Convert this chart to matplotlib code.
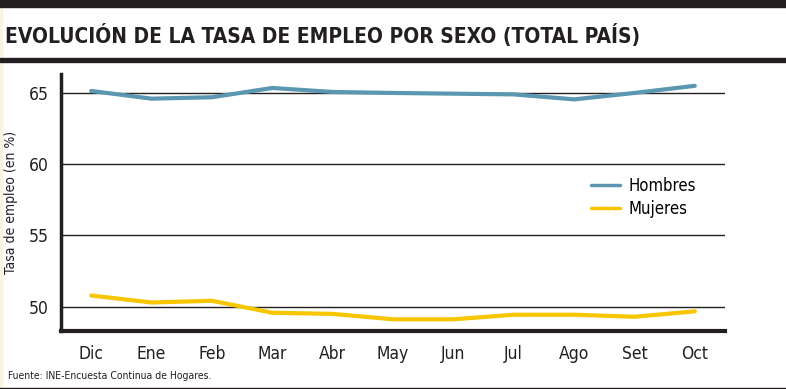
import matplotlib.pyplot as plt
from matplotlib.lines import Line2D

# data
meses = ['Dic', 'Ene', 'Feb', 'Mar', 'Abr', 'May', 'Jun', 'Jul', 'Ago', 'Set', 'Oct']
hombres = [65.14, 64.6, 64.7, 65.35, 65.07, 65.0, 64.95, 64.9, 64.55, 65.0, 65.5]
mujeres = [50.79, 50.3, 50.42, 49.58, 49.5, 49.12, 49.12, 49.44, 49.44, 49.3, 49.68]
yticks = [50, 55, 60, 65]

plt.rcParams['font.family'] = ['DejaVu Sans']
plt.rcParams['font.stretch'] = 'condensed'

W, H = 786, 389
fig = plt.figure(figsize=(W / 100, H / 100), dpi=100)

dark = '#231f20'
col_h = '#5b97b0'
col_m = '#f7c600'

# faint cream strip on the left edge, then header bars over it
fig.patches.append(plt.Rectangle((0, 1 / H), 2 / W, 1 - 8 / H, transform=fig.transFigure,
                                 color='#fbf3e2', zorder=0))
fig.patches.append(plt.Rectangle((0, 1 - 7 / H), 1, 7 / H, transform=fig.transFigure,
                                 color=dark, zorder=1))
fig.patches.append(plt.Rectangle((0, 1 - 62 / H), 1, 4 / H, transform=fig.transFigure,
                                 color=dark, zorder=1))
fig.text(5 / W, 1 - 35 / H, 'EVOLUCIÓN DE LA TASA DE EMPLEO POR SEXO (TOTAL PAÍS)',
         fontsize=15, fontweight='bold', color=dark, va='center', ha='left')

# footer
fig.text(8 / W, 1 - 376 / H, 'Fuente: INE-Encuesta Continua de Hogares.',
         fontsize=7.5, color=dark, va='center', ha='left')
fig.add_artist(Line2D([0, 1], [1 - 387.5 / H] * 2, transform=fig.transFigure,
                      color=dark, lw=1))

ax = fig.add_axes([61 / W, 1 - 331 / H, (725 - 61) / W, (331 - 74) / H])
x = list(range(len(meses)))
ax.plot(x, hombres, color=col_h, lw=3, label='Hombres', solid_capstyle='round', zorder=3)
ax.plot(x, mujeres, color=col_m, lw=3, label='Mujeres', solid_capstyle='round', zorder=3)

ax.set_xlim(-0.5, 10.5)
ax.set_ylim(48.3, 66.33)
ax.set_yticks(yticks)
ax.set_xticks(x)
ax.set_xticklabels(meses)
ax.tick_params(axis='both', length=0, labelsize=12.5, colors=dark, pad=10)
ax.tick_params(axis='y', pad=9)
ax.yaxis.grid(True, color=dark, lw=1)
ax.set_axisbelow(True)
for s in ['top', 'right']:
    ax.spines[s].set_visible(False)
ax.spines['left'].set_linewidth(2.5)
ax.spines['bottom'].set_linewidth(3)
ax.spines['left'].set_color(dark)
ax.spines['bottom'].set_color(dark)

ax.set_ylabel('Tasa de empleo (en %)', fontsize=10, color=dark)
ax.yaxis.set_label_coords(-(61 - 18) / (725 - 61), 0.5)

leg = ax.legend(loc='upper left', bbox_to_anchor=(0.798, 0.6), frameon=False,
                borderaxespad=0, borderpad=0,
                fontsize=12, handlelength=1.75, labelspacing=0.33, handletextpad=0.5)
for h in leg.get_lines():
    h.set_linewidth(2.5)

fig.savefig('out.png', dpi=100)
